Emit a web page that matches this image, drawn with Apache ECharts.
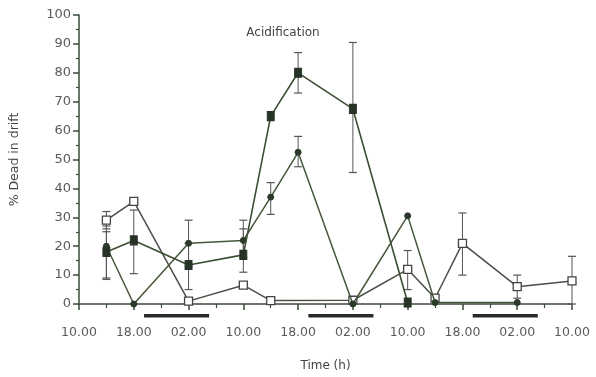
<!DOCTYPE html>
<html><head><meta charset="utf-8">
<script src="https://cdn.jsdelivr.net/npm/echarts@6/dist/echarts.min.js"></script>
<style>html,body{margin:0;padding:0;background:#fff}#c{width:596px;height:377px}</style>
</head><body><div id="c"></div>
<script>
// Time in hours from 10.00 on day 1
const xTickLabels = ['10.00','18.00','02.00','10.00','18.00','02.00','10.00','18.00','02.00','10.00'];
const filledSquareHours = [4, 8, 16, 24, 28, 32, 40, 48];
const filledSquareVals  = [18, 22, 13.5, 17, 65, 80, 67.5, 0.5];
const diamondHours = [4, 8, 16, 24, 28, 32, 40, 48, 52, 64];
const diamondVals  = [20, 0, 21, 22, 37, 52.5, 0, 30.5, 0.5, 0.5];
const openSquareHours = [4, 8, 16, 24, 28, 40, 48, 52, 56, 64, 72];
const openSquareVals  = [29, 35.5, 1, 6.5, 1.2, 1.3, 12, 2, 21, 6, 8];
// error bars: [hour, low, high]
const filledSquareErr = [[4, 9, 27], [8, 10.5, 32.5], [16, 5, 21], [24, 11, 26], [32, 73, 87], [40, 45.5, 90.5]];
const diamondErr = [[4, 8.5, 25], [16, 13, 29], [24, 16, 29], [28, 31, 42], [32, 47.5, 58]];
const openSquareErr = [[4, 26, 32], [48, 5, 18.5], [56, 10, 31.5], [64, 2, 10], [72, 0, 16.5]];
// dark periods (hours)
const nights = [[9.5, 19], [33.5, 43], [57.5, 67]];

const zip = (xs, ys) => xs.map((x, i) => [x, ys[i]]);
const axisCol = '#3b4a3b';
const txtCol = '#5a5a5a';
const font = 'DejaVu Sans';

function errSeries(data, color) {
  return {
    type: 'custom', data: data, z: 2, silent: true,
    renderItem: function (params, api) {
      const x = api.value(0);
      const lo = api.coord([x, api.value(1)]);
      const hi = api.coord([x, api.value(2)]);
      const w = 4;
      return { type: 'group', children: [
        { type: 'line', shape: { x1: lo[0], y1: lo[1], x2: hi[0], y2: hi[1] }, style: { stroke: color, lineWidth: 1 } },
        { type: 'line', shape: { x1: lo[0] - w, y1: lo[1], x2: lo[0] + w, y2: lo[1] }, style: { stroke: color, lineWidth: 1.2 } },
        { type: 'line', shape: { x1: hi[0] - w, y1: hi[1], x2: hi[0] + w, y2: hi[1] }, style: { stroke: color, lineWidth: 1.2 } }
      ]};
    }
  };
}

const chart = echarts.init(document.getElementById('c'));
chart.setOption({
  animation: false,
  backgroundColor: '#fff',
  title: { text: 'Acidification', left: 278, top: 22, textAlign: 'center',
    textStyle: { fontFamily: font, fontSize: 12, fontWeight: 'normal', color: '#444' } },
  grid: { left: 78, right: 24, top: 15, bottom: 70 },
  xAxis: {
    type: 'value', min: 0, max: 72, interval: 8,
    name: 'Time (h)', nameLocation: 'middle', nameGap: 56,
    nameTextStyle: { fontFamily: font, fontSize: 12, color: '#444' },
    axisLine: { show: true, lineStyle: { color: axisCol, width: 1.5 } },
    axisTick: { show: true, length: 6, lineStyle: { color: axisCol, width: 1.5 } },
    minorTick: { show: true, splitNumber: 2, length: 4, lineStyle: { color: axisCol, width: 1.2 } },
    splitLine: { show: false },
    axisLabel: { margin: 22, fontFamily: font, fontSize: 12.5, color: txtCol,
      formatter: v => xTickLabels[Math.round(v / 8)] || '' }
  },
  yAxis: {
    type: 'value', min: 0, max: 100, interval: 10,
    name: '% Dead in drift', nameLocation: 'middle', nameGap: 58, nameRotate: 90,
    nameTextStyle: { fontFamily: font, fontSize: 12.5, color: '#444' },
    axisLine: { show: true, lineStyle: { color: axisCol, width: 1.5 } },
    axisTick: { show: true, length: 6, lineStyle: { color: axisCol, width: 1.5 } },
    minorTick: { show: true, splitNumber: 2, length: 3, lineStyle: { color: axisCol, width: 1.2 } },
    splitLine: { show: false },
    axisLabel: { margin: 8, fontFamily: font, fontSize: 13, color: txtCol }
  },
  series: [
    {
      type: 'custom', data: nights, silent: true, clip: false, z: 1,
      renderItem: function (params, api) {
        const a = api.coord([api.value(0), 0]);
        const b = api.coord([api.value(1), 0]);
        return { type: 'rect', shape: { x: a[0], y: a[1] + 10, width: b[0] - a[0], height: 3.5 },
          style: { fill: '#2a2a2a' } };
      }
    },
    errSeries(filledSquareErr, '#555'),
    errSeries(diamondErr, '#555'),
    errSeries(openSquareErr, '#555'),
    {
      name: 'open', type: 'line', data: zip(openSquareHours, openSquareVals), z: 3,
      symbol: 'rect', symbolSize: 8,
      lineStyle: { color: '#4a4f45', width: 1.5 },
      itemStyle: { color: '#fff', borderColor: '#444', borderWidth: 1.3 }
    },
    {
      name: 'diamond', type: 'line', data: zip(diamondHours, diamondVals), z: 4,
      symbol: 'circle', symbolSize: 6,
      lineStyle: { color: '#44573a', width: 1.5 },
      itemStyle: { color: '#2b3a2b', borderColor: '#2b3a2b' }
    },
    {
      name: 'filled', type: 'line', data: zip(filledSquareHours, filledSquareVals), z: 5,
      symbol: 'rect', symbolSize: [7, 9],
      lineStyle: { color: '#3c4f34', width: 1.6 },
      itemStyle: { color: '#263326', borderColor: '#263326' }
    }
  ]
});
</script></body></html>
